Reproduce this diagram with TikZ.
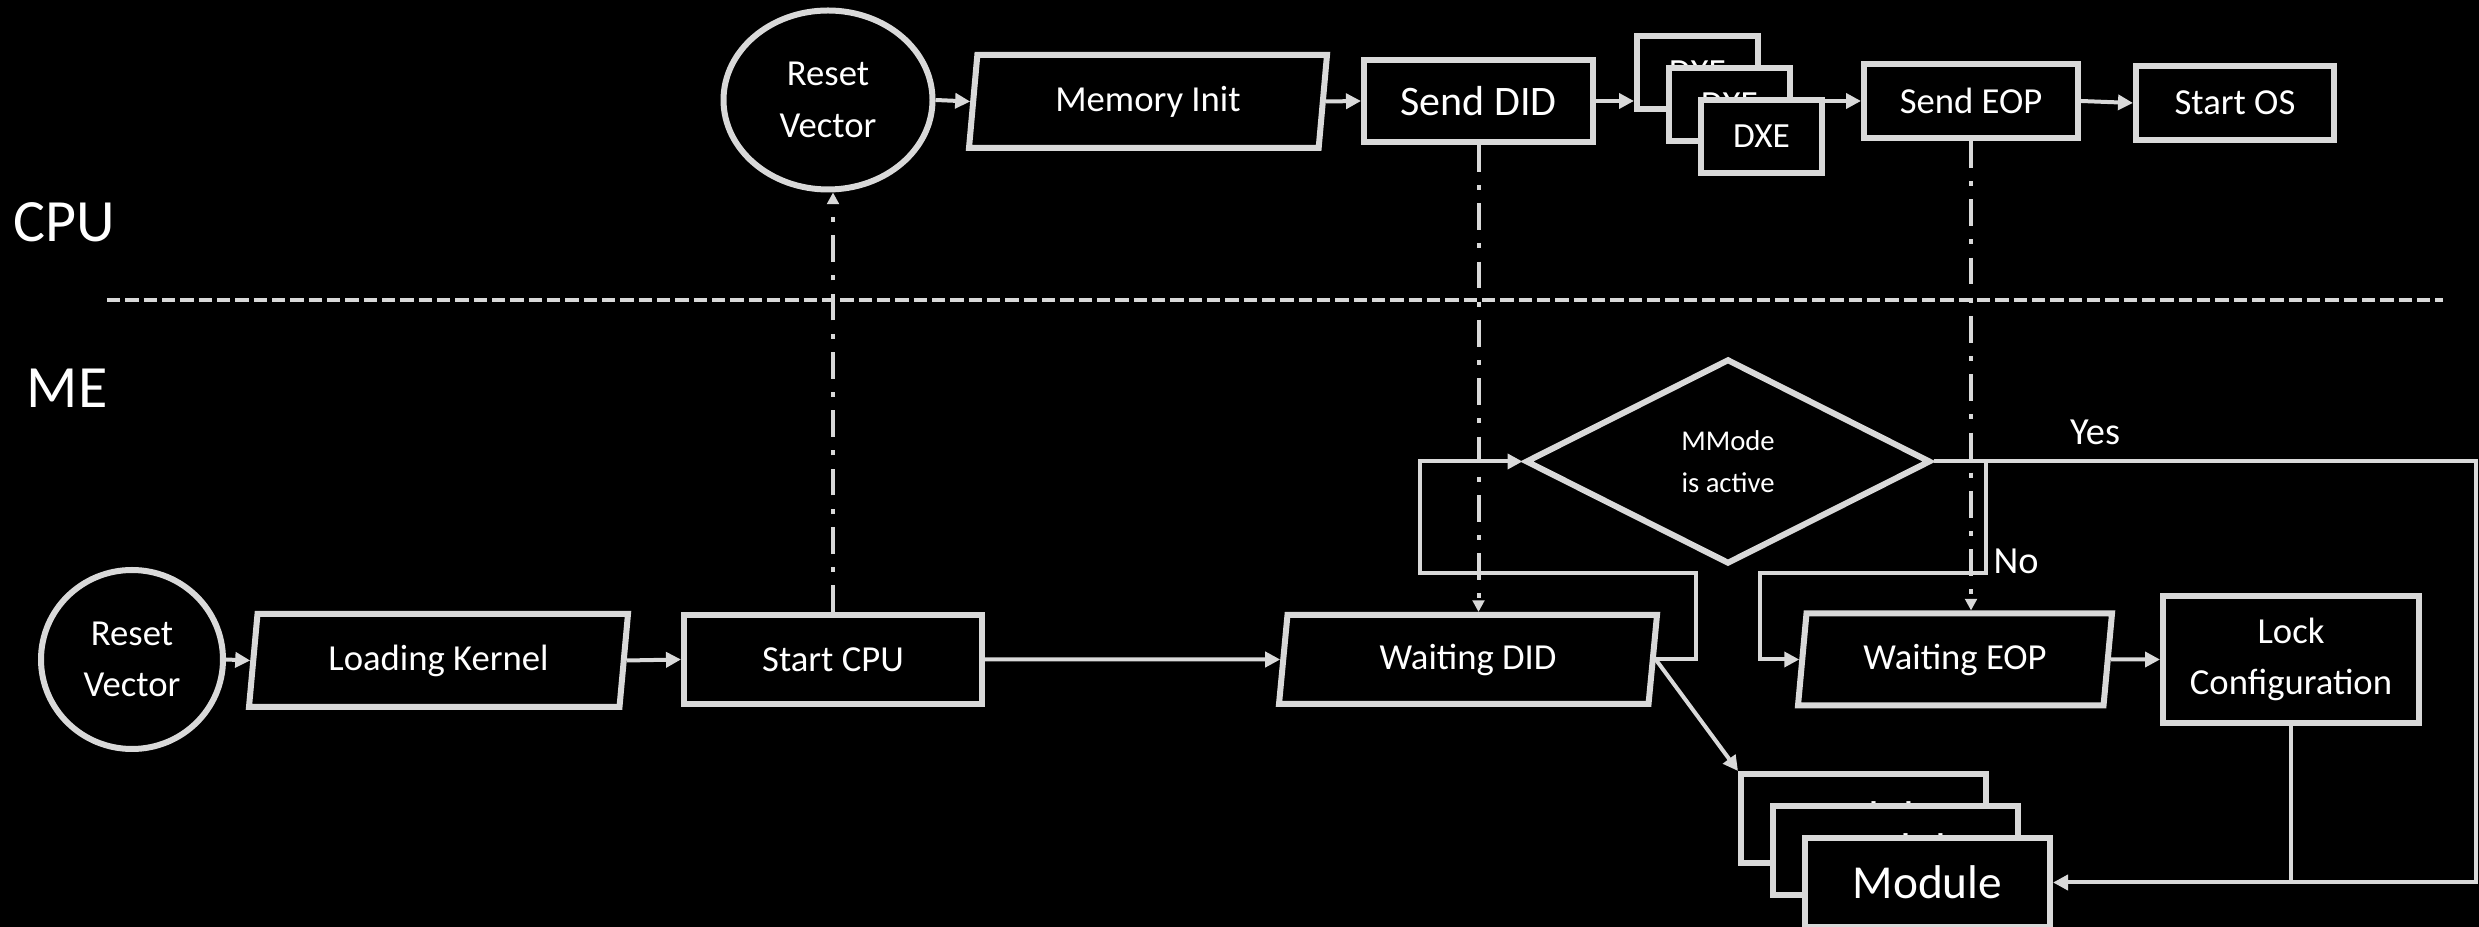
\documentclass[tikz,border=0pt]{standalone}
\usepackage{fontspec}
\setmainfont{Carlito}
\usetikzlibrary{shapes.geometric,arrows.meta}

\definecolor{linegray}{RGB}{217,217,217}
\tikzset{every picture/.style={line width=1.2pt}}
\tikzset{
  box/.style={draw=linegray, line width=1.8pt, fill=black, text=white, inner sep=0pt,
    align=center, font=\fontsize{11}{15.5}\selectfont},
  io/.style={box, trapezium, trapezium left angle=75, trapezium right angle=105,
    trapezium stretches body},
  startnode/.style={box, ellipse},
  decision/.style={box, diamond, font=\fontsize{8.6}{12.6}\selectfont},
  flow/.style={draw=linegray, line width=1.2pt, -{Triangle[length=4.5pt,width=4.5pt]}},
  signal/.style={draw=linegray, line width=1.2pt,
    dash pattern={on 8pt off 4pt on 1.5pt off 4pt}, -{Triangle[length=3.5pt,width=3.5pt]}},
  lane/.style={text=white, inner sep=0pt, font=\fontsize{18}{22}\selectfont},
  answer/.style={text=white, inner sep=0pt, font=\fontsize{11.5}{14}\selectfont},
}

\begin{document}
\begin{tikzpicture}[x=0.3pt,y=0.3pt,yscale=-1,xscale=1]
\useasboundingbox (0,0) rectangle (2479,927);
\fill[black] (0,0) rectangle (2479,927);

% Lanes
\node[lane] (cpuLane) at (64,222) {CPU};
\node[lane] (meLane) at (67,388) {ME};
\draw[linegray, line width=1.2pt, dash pattern={on 4pt off 1.5pt}] (107,300) -- (2443,300);

% CPU row
\node[startnode, minimum width=62.7pt, minimum height=53.7pt] (rvCPU) at (828,100) {Reset\\Vector};
\node[io, minimum width=107.4pt, minimum height=27.9pt] (memInit) at (1148,101.5) {Memory Init};
\node[box, minimum width=68.7pt, minimum height=24.6pt, font=\fontsize{12.6}{15}\selectfont] (sendDID) at (1478.5,101) {Send DID};
\node[box, minimum width=36.3pt, minimum height=21.9pt, font=\fontsize{10.6}{13}\selectfont] (dxeA) at (1697.5,72.5) {DXE};
\node[box, minimum width=36.3pt, minimum height=21.9pt, font=\fontsize{10.6}{13}\selectfont] (dxeB) at (1729.5,104.5) {DXE};
\node[box, minimum width=36.3pt, minimum height=21.9pt, font=\fontsize{10.6}{13}\selectfont] (dxeC) at (1761.5,136.5) {DXE};
\node[box, minimum width=64.2pt, minimum height=22.2pt] (sendEOP) at (1971,101) {Send EOP};
\node[box, minimum width=59.4pt, minimum height=22.2pt] (startOS) at (2235,103) {Start OS};

% ME row
\node[startnode, minimum width=54.6pt, minimum height=53.7pt] (rvME) at (132,659.5) {Reset\\Vector};
\node[io, minimum width=113.7pt, minimum height=27.9pt] (loadKernel) at (438.5,660.5) {Loading Kernel};
\node[box, minimum width=89.4pt, minimum height=26.7pt] (startCPU) at (833,659.5) {Start CPU};
\node[io, minimum width=113.4pt, minimum height=26.7pt] (waitDID) at (1468,659.5) {Waiting DID};
\node[decision, minimum width=121.5pt, minimum height=61.5pt] (mmode) at (1728,461.5) {MMode\\is active};
\node[io, minimum width=94.2pt, minimum height=27.6pt] (waitEOP) at (1955,659.5) {Waiting EOP};
\node[box, minimum width=76.8pt, minimum height=38.1pt] (lockCfg) at (2291,659.5) {Lock\\Configuration};
\node[box, minimum width=73.5pt, minimum height=26.7pt, font=\fontsize{14.2}{17}\selectfont] (modA) at (1863.5,818.5) {Module};
\node[box, minimum width=73.5pt, minimum height=26.7pt, font=\fontsize{14.2}{17}\selectfont] (modB) at (1895.5,850.5) {Module};
\node[box, minimum width=73.5pt, minimum height=26.7pt, font=\fontsize{14.2}{17}\selectfont] (modC) at (1927.5,882.5) {Module};

\node[answer] (yesLbl) at (2095,432) {Yes};
\node[answer] (noLbl) at (2016,561) {No};

\coordinate (didLoop) at (1420,573);
\coordinate (eopLoop) at (1760,573);
\coordinate (rightRail) at (2476,0);

% CPU flow
\draw[flow] (rvCPU.east) -- (memInit.west);
\draw[flow] (memInit.east) -- (sendDID.west);
\draw[flow] (sendDID.east) -- (sendDID.east -| dxeA.west);
\draw[flow] (sendEOP.west -| dxeC.east) -- (sendEOP.west);
\draw[flow] (sendEOP.east) -- (startOS.west);

% ME flow
\draw[flow] (rvME.east) -- (loadKernel.west);
\draw[flow] (loadKernel.east) -- (startCPU.west);
\draw[flow] (startCPU.east) -- (waitDID.west);
\draw[flow] (waitDID.east) -- ++(40,0) |- (didLoop) |- (mmode.west);
\draw[flow] (mmode.east) -- ++(52,0) |- (eopLoop) |- (waitEOP.west);
\draw[flow] (mmode.east) -- (mmode.east -| rightRail) |- (modC.east);
\draw[flow] (waitEOP.east) -- (lockCfg.west);
\draw[linegray, line width=1.2pt] (lockCfg.south) -- (lockCfg.south |- modC.east);
\draw[flow] (waitDID.east) -- (modA.north west);

% signals between CPU and ME
\draw[signal] (startCPU.north) -- (startCPU.north |- rvCPU.south);
\draw[signal] (sendDID.south) -- (sendDID.south |- waitDID.north);
\draw[signal] (sendEOP.south) -- (sendEOP.south |- waitEOP.north);

\end{tikzpicture}
\end{document}
